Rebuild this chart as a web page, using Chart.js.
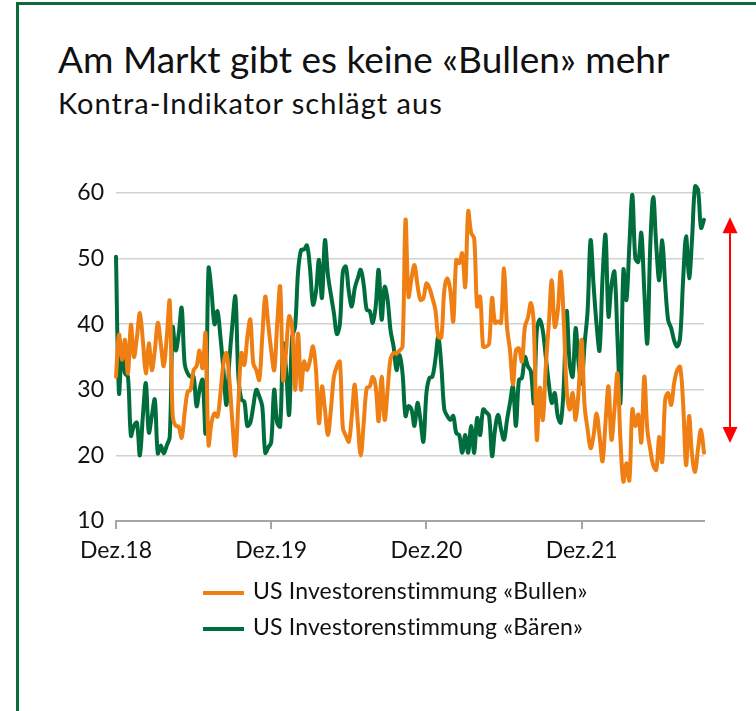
<!DOCTYPE html>
<html lang="de">
<head>
<meta charset="utf-8">
<script src="https://cdn.jsdelivr.net/npm/chart.js@4.4.0/dist/chart.umd.min.js"></script>
<style>
    html, body { margin: 0; padding: 0; background: #fff; }
    #page { position: relative; width: 756px; height: 711px; overflow: hidden; font-family: Lato, "Open Sans", sans-serif; color: #111; }
    #frame { position: absolute; left: 16px; top: 2px; right: -4px; bottom: -4px; border-left: 3px solid #0b6b3a; border-top: 3px solid #0b6b3a; }
    #title { position: absolute; left: 58px; top: 40px; font-size: 37px; line-height: 1; white-space: nowrap; }
    #subtitle { position: absolute; left: 58px; top: 88px; font-size: 29px; letter-spacing: 1px; line-height: 1; white-space: nowrap; }
    #chart { position: absolute; left: 0; top: 0; }
    .leg { position: absolute; left: 203px; font-size: 23px; letter-spacing: 0.15px; line-height: 1; white-space: nowrap; }
    .leg i { display: inline-block; width: 41px; height: 4px; margin-right: 9px; vertical-align: middle; }
</style>
</head>
<body>
<div id="page">
    <div id="frame"></div>
    <div id="title">Am Markt gibt es keine «Bullen» mehr</div>
    <div id="subtitle">Kontra-Indikator schlägt aus</div>
    <canvas id="chart" width="756" height="711"></canvas>
    <div class="leg" style="top:579px"><i style="background:#ef7f12"></i>US Investorenstimmung «Bullen»</div>
    <div class="leg" style="top:615px"><i style="background:#006d3d"></i>US Investorenstimmung «Bären»</div>
</div>
<script>
// AAII-Umfrage, wöchentlich ab Dez. 2018 (Anteil in %)
const bulls = [
    32, 38.4, 34.6, 37.6, 32.5, 39.9, 35, 38, 41.7, 37.5,
    32.5, 37.1, 33, 36, 40.2, 37, 33.6, 38, 43.5, 26,
    24.5, 24.4, 22.7, 26.5, 29.7, 30, 33, 33.6, 36, 33.3,
    38.6, 21.6, 25, 26.4, 25.9, 29.5, 34, 35.6, 31.5, 25,
    20, 28, 35.6, 33.8, 38, 40.7, 34, 33, 31.5, 38,
    44.2, 40, 36, 33, 40, 45.7, 31.5, 36, 41.2, 39.6,
    30, 38.6, 30, 34.3, 33, 34.5, 36.6, 33, 24.9, 30.5,
    27, 23.1, 27, 32, 33.6, 34.3, 24.2, 23, 22.1, 26,
    30.8, 25, 20, 25, 30.3, 30.5, 32, 30.5, 25.2, 32,
    25.4, 30, 34.8, 35.6, 35.6, 36, 36.6, 55.9, 44.2, 47,
    49, 46, 43.7, 44, 46.2, 45.5, 44, 42.2, 38.1, 38,
    45.2, 47, 45.2, 40.4, 49.8, 49.3, 50.8, 45.7, 57.2, 53.9,
    53.1, 42.7, 44.2, 36.6, 36.6, 37, 44, 40.2, 40.4, 40.2,
    48.5, 39.6, 36, 30.8, 36, 36.3, 34.3, 39.6, 41, 43.2,
    39.6, 22.4, 30.3, 25.4, 33.6, 40, 46.7, 39.6, 42, 48,
    40.7, 30, 27, 29.5, 25.4, 30, 37.6, 27.5, 24, 21.1,
    23, 26.4, 23, 19.1, 25, 30.5, 22.4, 27, 32.5, 22.4,
    16, 18.8, 16.2, 27, 24.5, 26.2, 22, 32, 24, 20.9,
    18.5, 17.8, 22.8, 19, 28.5, 29.5, 27.7, 31, 33, 33.5,
    28, 18.5, 26, 20, 17.5, 21, 23.9, 20.4
];
const bears = [
    50.3, 29.5, 36, 32.5, 32, 23, 24.5, 25, 20, 26,
    31, 23.5, 26, 28.5, 20.3, 21.5, 20.3, 21.5, 22.8, 39.5,
    36, 38.5, 42.5, 34, 32.5, 32, 32, 27.5, 30, 31.5,
    23.5, 48.5, 45, 40, 42, 38, 33, 27.7, 34.6, 40,
    44.2, 32, 28.5, 28.2, 24.5, 25, 27.5, 30, 29, 27.5,
    20.4, 21.2, 22, 30, 25, 24.4, 37, 33, 26.2, 38,
    39.6, 48, 51.3, 51.4, 52, 48.5, 43, 45, 49.8, 44,
    52.8, 47.5, 44.5, 41.7, 38.5, 40, 48, 48.8, 45, 42.7,
    45.5, 47, 48.3, 46, 42.2, 42, 40.2, 42.7, 48.3, 40.7,
    45.7, 43.7, 39, 36.6, 33, 35.3, 32.5, 26, 27.5, 27,
    24.5, 28, 25.4, 22.1, 29.5, 31.8, 32, 34.6, 38.1, 33.6,
    27, 26, 25.4, 26, 23.4, 23.1, 20.4, 23.1, 20.4, 24.5,
    20.4, 25.7, 23.1, 27, 26.6, 26, 19.9, 24, 26.2, 24,
    22.4, 25.4, 28, 30.5, 24.5, 31.5, 31.8, 35, 33.6, 32.8,
    28, 39.1, 40.7, 39, 35, 31, 28, 29.5, 26, 25,
    30.5, 42, 34, 32, 39.4, 34, 31, 37, 42, 52.8,
    46, 40, 36, 47, 53.6, 41.2, 46, 48, 38, 28,
    48.3, 43.7, 52, 59.7, 50, 49.5, 53.9, 45, 37.1, 52,
    59.4, 52, 46.7, 52.8, 46, 40.6, 39.4, 37.5, 36.6, 38,
    46.7, 53.4, 47, 53, 61, 60.5, 54.7, 55.9
];
const weeks = bulls.map((_, i) => i);           // Wochen seit Dez. 2018
const xTickLabels = ['Dez.18', 'Dez.19', 'Dez.20', 'Dez.21'];
const weeksPerYear = 52;
const yTicks = [10, 20, 30, 40, 50, 60];
const arrowRange = [56.3, 21.9];                 // roter Doppelpfeil

const tickFont = { family: 'Lato, "Open Sans", sans-serif', size: 23 };

// Doppelpfeil rechts neben dem Plot
const arrowPlugin = {
    id: 'arrow',
    afterDraw(chart) {
        const { ctx, chartArea, scales } = chart;
        const x = chartArea.right + 26;
        const y1 = scales.y.getPixelForValue(arrowRange[0]);
        const y2 = scales.y.getPixelForValue(arrowRange[1]);
        const hw = 7.5, hh = 16;
        ctx.save();
        ctx.strokeStyle = ctx.fillStyle = '#ff0000';
        ctx.lineWidth = 2;
        ctx.beginPath();
        ctx.moveTo(x, y1 + hh); ctx.lineTo(x, y2 - hh);
        ctx.stroke();
        ctx.beginPath();
        ctx.moveTo(x, y1); ctx.lineTo(x - hw, y1 + hh); ctx.lineTo(x + hw, y1 + hh);
        ctx.closePath(); ctx.fill();
        ctx.beginPath();
        ctx.moveTo(x, y2); ctx.lineTo(x - hw, y2 - hh); ctx.lineTo(x + hw, y2 - hh);
        ctx.closePath(); ctx.fill();
        ctx.restore();
    },
};

new Chart(document.getElementById('chart'), {
    type: 'line',
    data: {
        labels: weeks,
        datasets: [
            { label: 'US Investorenstimmung «Bullen»', data: bulls, borderColor: '#ef7f12', clip: 10 },
            { label: 'US Investorenstimmung «Bären»', data: bears, borderColor: '#006d3d', clip: 10 },
        ],
    },
    options: {
        responsive: false,
        animation: false,
        devicePixelRatio: 1,
        layout: { padding: { left: 40, top: 193, right: 52, bottom: 150 } },
        elements: {
            line: { borderWidth: 4, tension: 0.35, borderCapStyle: 'round', borderJoinStyle: 'round' },
            point: { radius: 0 },
        },
        plugins: { legend: { display: false }, tooltip: { enabled: false } },
        scales: {
            x: {
                type: 'linear',
                min: 0,
                max: weeks.length - 1,
                afterFit: (s) => { s.height = 40; },
                ticks: {
                    stepSize: weeksPerYear,
                    includeBounds: false,
                    autoSkip: false,
                    maxRotation: 0,
                    padding: 8,
                    color: '#111',
                    font: tickFont,
                    callback: (v) => xTickLabels[v / weeksPerYear] ?? '',
                },
                grid: { drawOnChartArea: false, drawTicks: true, tickLength: 8, color: '#a9a49d', lineWidth: 2 },
                border: { display: true, color: '#a9a49d', width: 2 },
            },
            y: {
                min: yTicks[0],
                max: yTicks[yTicks.length - 1],
                afterFit: (s) => { s.width = 76; },
                afterBuildTicks: (s) => { s.ticks = yTicks.map(v => ({ value: v })); },
                ticks: { padding: 12, color: '#111', font: tickFont },
                grid: { drawTicks: false, color: '#d2d2d2', lineWidth: 1.5 },
                border: { display: false },
            },
        },
    },
    plugins: [arrowPlugin],
});
</script>
</body>
</html>
